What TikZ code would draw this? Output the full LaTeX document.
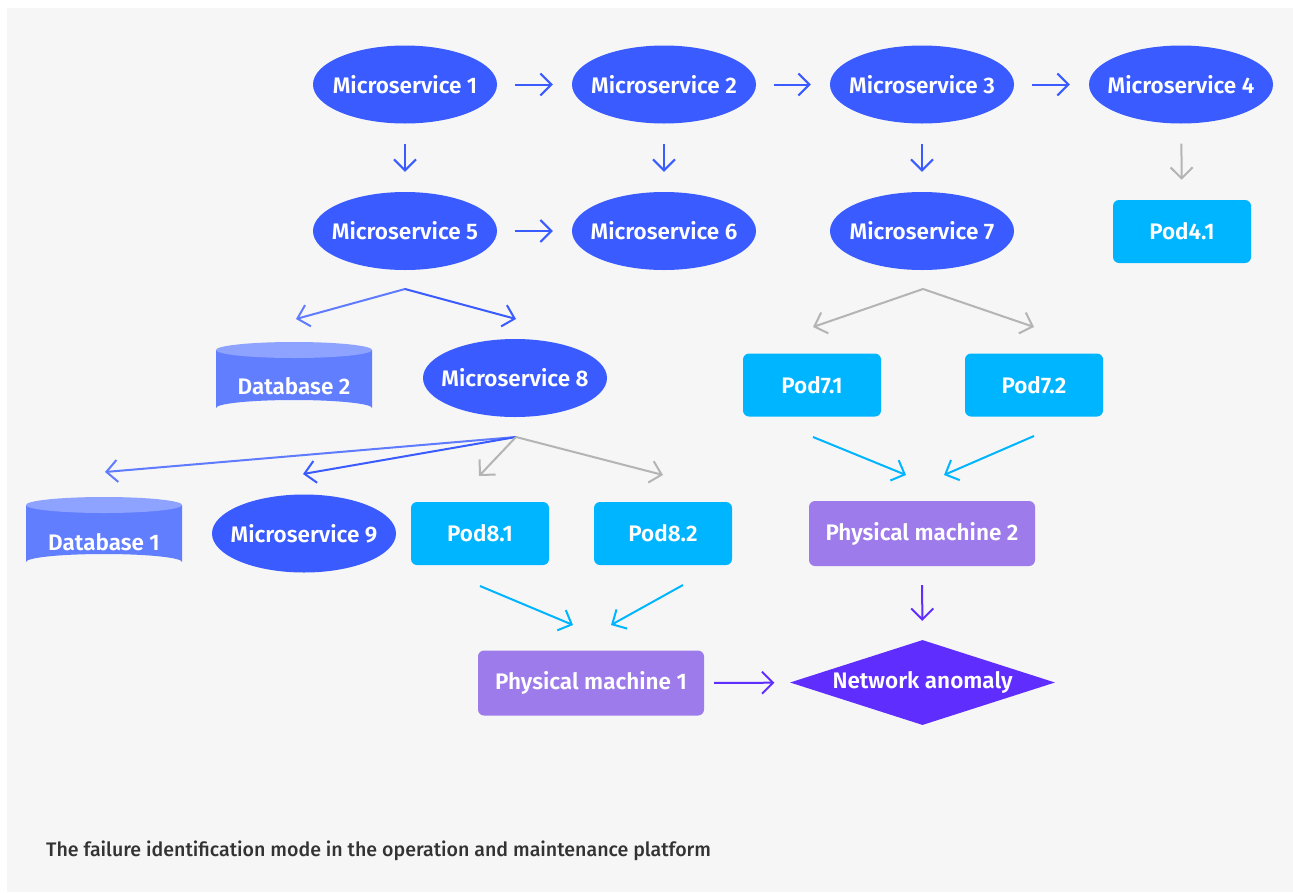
\documentclass[tikz,border=0pt]{standalone}
\usepackage{fontspec}
\setmainfont{Fira Sans}[BoldFont={Fira Sans SemiBold}]
\newfontfamily\capfont{Fira Sans Medium}
\usetikzlibrary{arrows.meta,shapes.geometric}

\definecolor{bg}{HTML}{F6F6F6}
\definecolor{msblue}{HTML}{3A5BFF}
\definecolor{lightblue}{HTML}{5F7BFF}
\definecolor{dbbody}{HTML}{617EFF}
\definecolor{dbtop}{HTML}{8EA2FF}
\definecolor{podcyan}{HTML}{00B5FF}
\definecolor{pmpurple}{HTML}{9D7BEA}
\definecolor{anomaly}{HTML}{5F2EFF}
\definecolor{grayarrow}{HTML}{B4B4B4}
\definecolor{captext}{HTML}{333333}

\tikzset{
  lbl/.style={text=white, font=\bfseries\fontsize{22.5}{26}\selectfont, inner sep=0pt},
  ms/.style={lbl, ellipse, fill=msblue, inner xsep=-14pt, inner ysep=-4pt, minimum width=184pt, minimum height=78pt},
  pod/.style={lbl, rectangle, rounded corners=6pt, fill=podcyan, minimum width=138pt, minimum height=63pt},
  pm/.style={lbl, rectangle, rounded corners=6pt, fill=pmpurple, minimum width=226pt, minimum height=65pt},
  anom/.style={lbl, diamond, aspect=3.1, fill=anomaly, minimum width=265pt, minimum height=85pt},
  dbtext/.style={lbl},
  arr/.style={-{Straight Barb[length=11pt,width=22pt]}, line width=2pt},
}

% database cylinder: centre x, top-ellipse centre y, bottom side y, half width
\newcommand{\dbcyl}[4]{%
  \fill[dbbody] (#1-#4,#2) -- (#1-#4,#3) arc[start angle=180,end angle=360,x radius=#4,y radius=8] -- (#1+#4,#2) -- cycle;
  \fill[dbtop] (#1,#2) ellipse[x radius=#4,y radius=8];
}

\begin{document}
\begin{tikzpicture}[x=1pt,y=-1pt]
\useasboundingbox (0,0) rectangle (1293,892);
\fill[white] (0,0) rectangle (1293,892);
\fill[bg] (7,8) rectangle (1293,892);

% microservices
\node[ms] (ms1) at (405,84.5) {Microservice 1};
\node[ms] (ms2) at (664,84.5) {Microservice 2};
\node[ms] (ms3) at (922,84.5) {Microservice 3};
\node[ms] (ms4) at (1181,84.5) {Microservice 4};
\node[ms] (ms5) at (405,231) {Microservice 5};
\node[ms] (ms6) at (664,231) {Microservice 6};
\node[ms] (ms7) at (922,231) {Microservice 7};
\node[ms] (ms8) at (515,378) {Microservice 8};
\node[ms] (ms9) at (304,533.5) {Microservice 9};

% databases
\dbcyl{294}{350}{408}{78}
\node[dbtext] (db2) at (294,386) {Database 2};
\dbcyl{104}{505}{562}{78}
\node[dbtext] (db1) at (104,542) {Database 1};

% pods
\node[pod] (pod41) at (1182,231.5) {Pod4.1};
\node[pod] (pod71) at (812,385) {Pod7.1};
\node[pod] (pod72) at (1034,385) {Pod7.2};
\node[pod] (pod81) at (480,533.5) {Pod8.1};
\node[pod] (pod82) at (663,533.5) {Pod8.2};

% physical machines and anomaly
\node[pm] (pm2) at (922,533.5) {Physical machine 2};
\node[pm] (pm1) at (591,683) {Physical machine 1};
\node[anom] (na) at (922.5,682.5) {Network anomaly};

% call chain arrows
\draw[arr, msblue, shorten <=18pt, shorten >=19pt] (ms1) -- (ms2);
\draw[arr, msblue, shorten <=18pt, shorten >=19pt] (ms2) -- (ms3);
\draw[arr, msblue, shorten <=18pt, shorten >=19pt] (ms3) -- (ms4);
\draw[arr, msblue, shorten <=18pt, shorten >=19pt] (ms5) -- (ms6);
\draw[arr, msblue, shorten <=20pt, shorten >=20pt] (ms1) -- (ms5);
\draw[arr, msblue, shorten <=20pt, shorten >=20pt] (ms2) -- (ms6);
\draw[arr, msblue, shorten <=20pt, shorten >=20pt] (ms3) -- (ms7);
\draw[arr, grayarrow, shorten <=20pt, shorten >=20pt] (ms4) -- (pod41);

% fan-out points
\coordinate (f5) at (405,289);
\coordinate (f5l) at (296,319);
\coordinate (f5r) at (516,319);
\coordinate (f7) at (923,289);
\coordinate (f7l) at (813,327);
\coordinate (f7r) at (1034,327);
\coordinate (f8) at (516,437);
\coordinate (f8a) at (105,472);
\coordinate (f8b) at (303,474);
\coordinate (f8c) at (479,476);
\coordinate (f8d) at (663,475);

\draw[arr, lightblue] (f5) -- (f5l);
\draw[arr, msblue] (f5) -- (f5r);
\draw[arr, grayarrow] (f7) -- (f7l);
\draw[arr, grayarrow] (f7) -- (f7r);
\draw[arr, lightblue] (f8) -- (f8a);
\draw[arr, msblue] (f8) -- (f8b);
\draw[arr, grayarrow] (f8) -- (f8c);
\draw[arr, grayarrow] (f8) -- (f8d);

% pods to machines
\coordinate (p71s) at (813,437);
\coordinate (p72s) at (1034,436);
\coordinate (pm2a) at (906,475);
\coordinate (pm2b) at (944,475);
\coordinate (p81s) at (480,586);
\coordinate (p82s) at (683,585);
\coordinate (pm1a) at (573,625);
\coordinate (pm1b) at (611,625);
\draw[arr, podcyan] (p71s) -- (pm2a);
\draw[arr, podcyan] (p72s) -- (pm2b);
\draw[arr, podcyan] (p81s) -- (pm1a);
\draw[arr, podcyan] (p82s) -- (pm1b);

% machines to anomaly
\draw[arr, anomaly, shorten <=19pt, shorten >=19pt] (pm2) -- (na);
\draw[arr, anomaly, shorten <=10pt, shorten >=16pt] (pm1) -- (na);

% caption
\node[anchor=base west, inner sep=0pt, text=captext, font=\capfont\fontsize{19.6}{23}\selectfont] (cap) at (46,856) {The failure identification mode in the operation and maintenance platform};
\end{tikzpicture}
\end{document}
